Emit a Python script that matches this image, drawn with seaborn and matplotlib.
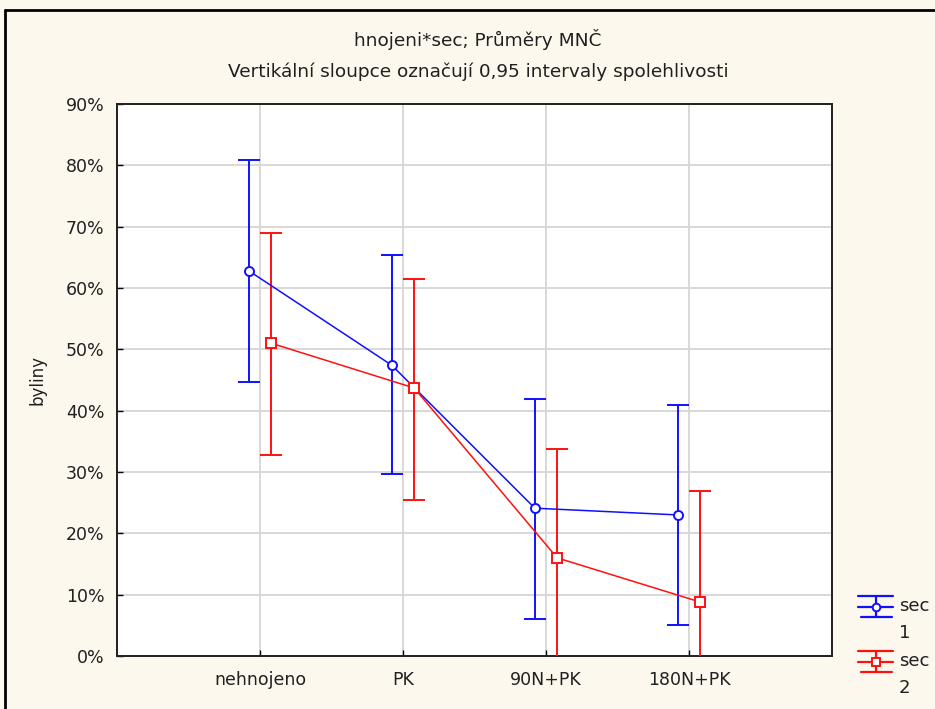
import numpy as np
import pandas as pd
import matplotlib
matplotlib.use("Agg")
import matplotlib.pyplot as plt
from matplotlib.lines import Line2D
from matplotlib.legend_handler import HandlerBase
import seaborn as sns

categories = ["nehnojeno", "PK", "90N+PK", "180N+PK"]
sec1_mean = [62.8, 47.4, 24.1, 23.0]
sec1_low = [44.7, 29.7, 6.0, 5.1]
sec1_high = [80.9, 65.4, 41.9, 40.9]
sec2_mean = [51.0, 43.7, 16.0, 8.8]
sec2_low = [32.8, 25.4, -2.0, -9.0]
sec2_high = [69.0, 61.5, 33.8, 26.9]
yticks = [0, 10, 20, 30, 40, 50, 60, 70, 80, 90]

sns.set_theme(style="white")
plt.rcParams["font.family"] = ["DejaVu Sans"]

fig = plt.figure(figsize=(9.35, 7.09), dpi=100, facecolor="#FDF8EE")
W, H = 935, 709
ax = fig.add_axes([117 / W, 1 - 656 / H, (832 - 117) / W, (656 - 104) / H])
ax.set_facecolor("white")

idx = np.arange(len(categories))
off = 0.078
df = pd.DataFrame({
    "x": np.concatenate([idx - off, idx + off]),
    "y": sec1_mean + sec2_mean,
    "low": sec1_low + sec2_low,
    "high": sec1_high + sec2_high,
    "sec": ["1"] * 4 + ["2"] * 4,
})
palette = {"1": "#1010FF", "2": "#FF1010"}
markers = {"1": "o", "2": "s"}

for s, g in df.groupby("sec"):
    c = palette[s]
    ax.errorbar(g["x"], g["y"], yerr=[g["y"] - g["low"], g["high"] - g["y"]],
                fmt="none", ecolor=c, elinewidth=1.4, capsize=8, capthick=1.4, zorder=3)
n_before = len(ax.lines)
sns.lineplot(data=df, x="x", y="y", hue="sec", style="sec", palette=palette,
             markers=markers, dashes=False, markersize=6.5,
             markeredgewidth=1.4, linewidth=1.1, ax=ax, legend=False, zorder=4)
for line in ax.lines[n_before:]:
    line.set_markerfacecolor("white")
    line.set_markeredgecolor(line.get_color())

ax.set_xlim(-1, 4)
ax.set_ylim(0, 90)
ax.set_xticks(idx)
ax.set_xticklabels(categories, fontsize=12.5)
ax.set_yticks(yticks)
ax.set_yticklabels([f"{t}%" for t in yticks], fontsize=12.5)
ax.grid(True, color="#D8D8D8", linewidth=1.4)
ax.set_axisbelow(True)
ax.tick_params(axis="both", direction="in", length=4, width=1, color="black",
               bottom=True, left=True, labelcolor="#202020")
ax.tick_params(axis="y", pad=9)
ax.tick_params(axis="x", pad=11)
for sp in ax.spines.values():
    sp.set_color("#202020")
    sp.set_linewidth(1.4)
ax.set_xlabel("")
ax.set_ylabel("byliny", fontsize=12, color="#202020")
ax.yaxis.set_label_coords(-70 / 715, 0.5)

fig.text(478 / W, 1 - 40 / H, "hnojeni*sec; Průměry MNČ", ha="center", va="center",
         fontsize=13.3, color="#202020")
fig.text(478 / W, 1 - 72 / H, "Vertikální sloupce označují 0,95 intervaly spolehlivosti",
         ha="center", va="center", fontsize=13.3, color="#202020")

# outer frame (left & top)
fig.add_artist(Line2D([5 / W, 5 / W], [0, 1 - 10 / H], transform=fig.transFigure, color="black", lw=2))
fig.add_artist(Line2D([5 / W, 1], [1 - 10 / H, 1 - 10 / H], transform=fig.transFigure, color="black", lw=2))


class ErrSymbol(HandlerBase):
    def __init__(self, color, marker):
        super().__init__()
        self.color = color
        self.marker = marker

    def create_artists(self, legend, orig_handle, xdescent, ydescent, width, height, fontsize, trans):
        cy = height / 2 - ydescent + 0.75 * fontsize
        x0, x1 = -xdescent, -xdescent + width
        xm = (x0 + x1) / 2
        d = 0.58 * fontsize
        arts = [
            Line2D([x0, x1], [cy, cy], color=self.color, lw=1.6),
            Line2D([x0, x1], [cy + d, cy + d], color=self.color, lw=1.6),
            Line2D([x0 + 2, x1 - 1], [cy - d, cy - d], color=self.color, lw=1.6),
            Line2D([xm, xm], [cy - d, cy + d], color=self.color, lw=1.6),
            Line2D([xm], [cy], color=self.color, marker=self.marker, markersize=5.5,
                   markerfacecolor="white", markeredgewidth=1.4),
        ]
        for a in arts:
            a.set_transform(trans)
        return arts


h1 = Line2D([], [], color=palette["1"])
h2 = Line2D([], [], color=palette["2"])
leg = fig.legend([h1, h2], ["sec\n1", "sec\n2"], loc="upper left",
                 bbox_to_anchor=(851 / W, 1 - 590 / H), frameon=False, fontsize=13,
                 handlelength=1.95, handletextpad=0.3, labelspacing=0.53,
                 borderaxespad=0, borderpad=0.4,
                 handler_map={h1: ErrSymbol(palette["1"], "o"), h2: ErrSymbol(palette["2"], "s")})
for t in leg.get_texts():
    t.set_color("#202020")
    t.set_linespacing(1.65)

fig.savefig("out.png", dpi=100, facecolor=fig.get_facecolor())
